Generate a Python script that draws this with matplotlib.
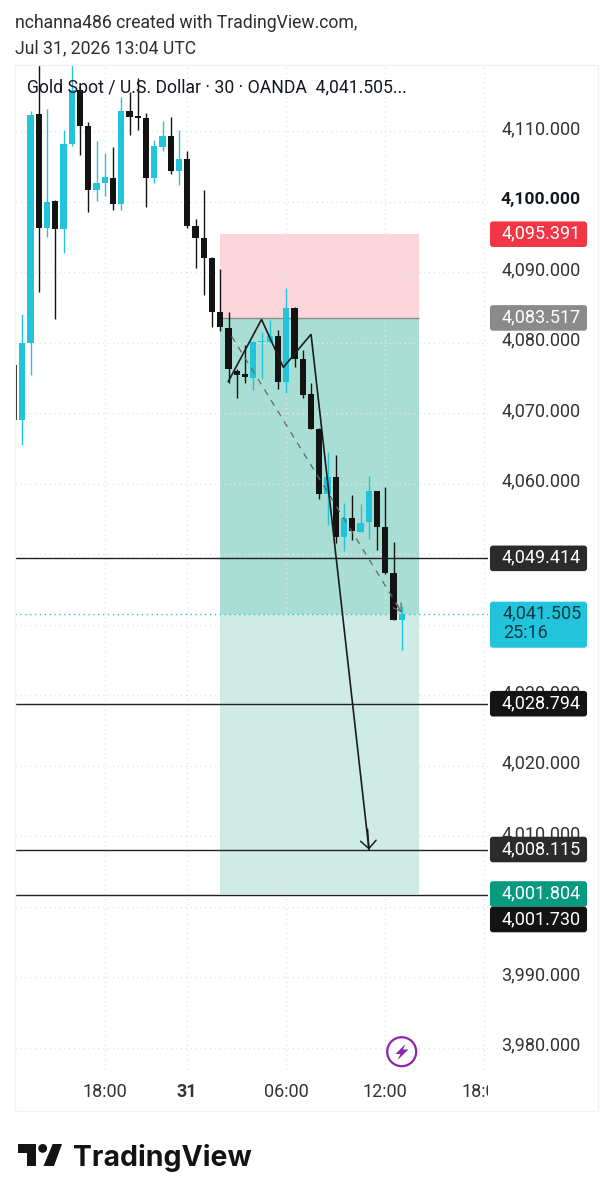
import matplotlib
matplotlib.use('Agg')
import matplotlib.pyplot as plt
from matplotlib.patches import Rectangle, FancyBboxPatch, Polygon, Circle

plt.rcParams['font.family'] = ['Roboto', 'DejaVu Sans']

W, H = 610, 1200

# --- data (price units) ---
bar_index = list(range(-1, 47))
opens = [4076.9, 4069.0, 4080.0, 4112.4, 4096.3, 4100.1, 4096.1, 4108.2, 4115.9, 4110.7, 4101.6, 4102.7, 4103.4,
         4099.7, 4112.9, 4112.1, 4111.9, 4103.3, 4107.8, 4109.3, 4104.4, 4106.1, 4096.5, 4094.8, 4092.0,
         4084.4, 4082.1, 4076.0, 4075.5, 4075.0, 4080.1, 4080.1, 4080.9, 4074.4, 4084.9, 4077.7, 4072.7,
         4067.8, 4058.6, 4060.9, 4052.5, 4055.1, 4053.2, 4054.6, 4058.9, 4053.8, 4047.3, 4040.7]
closes = [4069.1, 4080.0, 4112.3, 4096.2, 4100.0, 4096.1, 4108.2, 4115.9, 4110.8, 4101.7, 4102.7, 4103.5, 4099.7,
          4112.9, 4112.0, 4111.9, 4103.3, 4107.9, 4109.3, 4104.4, 4106.0, 4096.6, 4094.8, 4092.0, 4084.3,
          4082.2, 4076.2, 4075.4, 4075.1, 4080.1, 4080.2, 4081.0, 4074.4, 4084.9, 4077.7, 4072.6, 4067.8,
          4058.6, 4060.9, 4052.5, 4055.1, 4053.3, 4054.4, 4058.9, 4053.8, 4047.3, 4040.7, 4041.5]
highs = [4077.5, 4084.1, 4112.8, 4125.0, 4113.2, 4100.2, 4110.2, 4125.0, 4116.1, 4111.3, 4108.6, 4106.9, 4107.8,
         4114.9, 4115.6, 4117.5, 4112.6, 4108.7, 4111.4, 4112.0, 4110.2, 4107.2, 4097.5, 4101.7, 4092.1,
         4090.4, 4084.3, 4076.2, 4079.7, 4080.2, 4081.5, 4083.2, 4081.8, 4087.7, 4085.1, 4079.0, 4074.3,
         4067.9, 4064.5, 4064.1, 4057.2, 4058.4, 4057.1, 4061.1, 4059.0, 4059.5, 4051.7, 4042.6]
lows = [4068.5, 4065.5, 4075.4, 4087.2, 4095.0, 4083.3, 4092.7, 4107.9, 4106.6, 4098.5, 4100.1, 4100.8, 4098.8,
        4098.8, 4109.4, 4110.1, 4099.3, 4102.6, 4107.2, 4104.0, 4102.4, 4096.2, 4090.6, 4086.7, 4082.2,
        4081.6, 4074.3, 4072.2, 4074.3, 4073.3, 4074.9, 4079.9, 4073.5, 4072.8, 4076.6, 4072.1, 4067.7,
        4057.9, 4054.2, 4051.6, 4050.4, 4052.0, 4053.1, 4052.1, 4050.6, 4047.2, 4040.6, 4036.4]

price_ticks = [4110, 4100, 4090, 4080, 4070, 4060, 4050, 4040, 4030, 4020, 4010, 4000, 3990, 3980]
hidden_ticks = [4050, 4040, 4000]
time_index = [10, 20, 32, 44, 56]
time_labels = ['18:00', '31', '06:00', '12:00', '18:00']

entry, stop, target = 4083.517, 4095.391, 4001.804
last_price = 4041.505
h_levels = [4049.414, 4028.794, 4008.115, 4001.730]
box_start, box_end = 23.96, 48.08

zigzag_x = [24.97, 29.0, 31.64, 35.0]
zigzag_y = [4074.5, 4083.3, 4076.5, 4081.2]
arrow_end = (42.02, 4008.1)
dash_start = (25.38, 4080.9)
dash_end = (46.02, 4041.7)

tag_text = ['4,095.391', '4,083.517', '4,049.414', '4,028.794', '4,008.115', '4,001.804', '4,001.730']
tag_price = [4095.391, 4083.517, 4049.414, 4028.794, 4008.115, 4001.804, 4001.730]
tag_fill = ['#f23645', '#8a8a8a', '#2b2b2b', '#131313', '#2b2b2b', '#089981', '#131313']

CYAN = '#22c4dc'
BLACK = '#131313'
GRID = '#e3e6ec'

fig = plt.figure(figsize=(W / 100, H / 100), dpi=100, facecolor='white')

# chart pane, positioned in pixels
L, R, T, B = 15, 488, 65, 1070
XMIN, XMAX = -0.885, 56.45
ax = fig.add_axes([L / W, 1 - B / H, (R - L) / W, (B - T) / H])
ax.set_xlim(XMIN, XMAX)
ax.set_ylim(3976.84, 4119.39)
ax.axis('off')

ax.hlines(price_ticks, XMIN, XMAX, color=GRID, lw=1, ls=(0, (1, 2.5)), zorder=2)
ax.vlines(time_index, 3976.84, 4119.39, color=GRID, lw=1, ls=(0, (1, 2.5)), zorder=2)

# long position box
ax.add_patch(Rectangle((box_start, entry), box_end - box_start, stop - entry, fc='#fcd6da', ec='none', zorder=1))
ax.add_patch(Rectangle((box_start, last_price), box_end - box_start, entry - last_price, fc='#a8ded3', ec='none', zorder=1))
ax.add_patch(Rectangle((box_start, target), box_end - box_start, last_price - target, fc='#cfebe5', ec='none', zorder=1))
ax.hlines(entry, box_start, box_end, color='#8a8a8a', lw=1, zorder=2.5)

for i, o, c, hi, lo in zip(bar_index, opens, closes, highs, lows):
    col = CYAN if c >= o else BLACK
    ax.vlines(i, lo, hi, color=col, lw=1.0, zorder=3)
    ax.bar(i, max(abs(c - o), 0.2), bottom=min(o, c), width=0.76, color=col, lw=0, zorder=3)

ax.hlines(h_levels, XMIN, XMAX, color='#222222', lw=1.0, zorder=4)
ax.hlines(last_price, XMIN, XMAX, color=CYAN, lw=1, ls=(0, (1, 2.5)), zorder=2.5)

ax.plot([dash_start[0], dash_end[0]], [dash_start[1], dash_end[1]], color='#666666', lw=0.9,
        ls=(0, (5, 5)), zorder=4)
ax.annotate('', xy=dash_end, xytext=(45.3, 4043.0),
            arrowprops=dict(arrowstyle='->,head_width=0.3,head_length=0.5', color='#666666', lw=0.9,
                            mutation_scale=11, shrinkA=0, shrinkB=0), zorder=4)
ax.plot(zigzag_x + [arrow_end[0]], zigzag_y + [arrow_end[1]], color='#1c1c1c', lw=1.2, zorder=4,
        solid_joinstyle='miter')
ax.annotate('', xy=arrow_end, xytext=(41.85, 4011),
            arrowprops=dict(arrowstyle='->,head_width=0.4,head_length=0.4', color='#1c1c1c', lw=1.1,
                            mutation_scale=14, shrinkA=0, shrinkB=0), zorder=4)

ax.text((27 - L) / (R - L), 1 - (88 - T) / (B - T), 'Gold Spot / U.S. Dollar · 30 · OANDA  4,041.505...',
        transform=ax.transAxes, fontsize=12.7, color='#131722', va='center', ha='left', zorder=6)

# overlay in pixel coordinates for the axes strips and branding
ov = fig.add_axes([0, 0, 1, 1], facecolor='none')
ov.set_xlim(0, W)
ov.set_ylim(H, 0)
ov.axis('off')


def px(price):
    return 201.7 + (4100 - price) * 7.05


def bx(i):
    return 22.3 + 8.25 * i


ov.add_patch(Rectangle((15, 65), 583, 1046, fc='none', ec='#f0f3f6', lw=1, zorder=0))

for p in price_ticks:
    if p in hidden_ticks:
        continue
    ov.text(541, px(p) - 2, f'{p:,.3f}', fontsize=12.6 if p == 4100 else 13.0,
            color='#131722' if p == 4100 else '#333333',
            fontweight='bold' if p == 4100 else 'normal', ha='center', va='center', zorder=2)

clip = Rectangle((0, 0), 488, H, transform=ov.transData)
for i, lab in zip(time_index, time_labels):
    t = ov.text(bx(i), 1092, lab, fontsize=13, color='#333333', ha='center', va='center',
                fontweight='bold' if lab == '31' else 'normal')
    t.set_clip_path(clip)
    t.set_clip_on(True)


def tag(cy, h, fill):
    ov.add_patch(FancyBboxPatch((491, cy - h / 2 + 1), 95, h - 2, boxstyle='round,pad=0,rounding_size=2',
                                fc=fill, ec=fill, lw=1.5, zorder=3))


for txt, p, fill in zip(tag_text, tag_price, tag_fill):
    cy = px(p)
    if txt == '4,001.730':
        cy = 919.5
    tag(cy, 25.5, fill)
    ov.text(541, cy - 0.5, txt, fontsize=13.0, color='white', ha='center', va='center', zorder=4)

tag(624.7, 46, CYAN)
ov.text(503, 613, '4,041.505', fontsize=13.0, color='#0e3a47', ha='left', va='center', zorder=4)
ov.text(503, 633, '25:16', fontsize=13.0, color='#0e3a47', ha='left', va='center', zorder=4)

# lightning badge
ov.add_patch(Circle((401.7, 1051.7), 14.5, fc='white', ec='#8e24aa', lw=1.6, zorder=5))
ov.add_patch(Polygon([(405.5, 1044), (395.5, 1054), (400.5, 1054), (397.5, 1060), (408.5, 1049.5), (403, 1049.5)],
                     closed=True, fc='#8e24aa', ec='none', zorder=6))

# header
ov.text(15, 23, 'nchanna486 created with TradingView.com,', fontsize=12.7, color='#2e2e2e', va='center')
ov.text(15, 48, 'Jul 31, 2026 13:04 UTC', fontsize=12.7, color='#2e2e2e', va='center')

# TradingView logo
ov.add_patch(Polygon([(18, 1144), (36, 1144), (36, 1166), (27, 1166), (27, 1153), (18, 1153)], fc=BLACK, ec='none'))
ov.add_patch(Circle((42.7, 1148.4), 4.4, fc=BLACK, ec='none'))
ov.add_patch(Polygon([(52.7, 1144), (62, 1144), (54, 1166), (43.5, 1166)], fc=BLACK, ec='none'))
ov.text(72.7, 1166, 'TradingView', family=['Inter', 'DejaVu Sans'], fontsize=20.5, fontweight='bold',
        color=BLACK, va='baseline', ha='left')

fig.savefig('out.png', dpi=100)
